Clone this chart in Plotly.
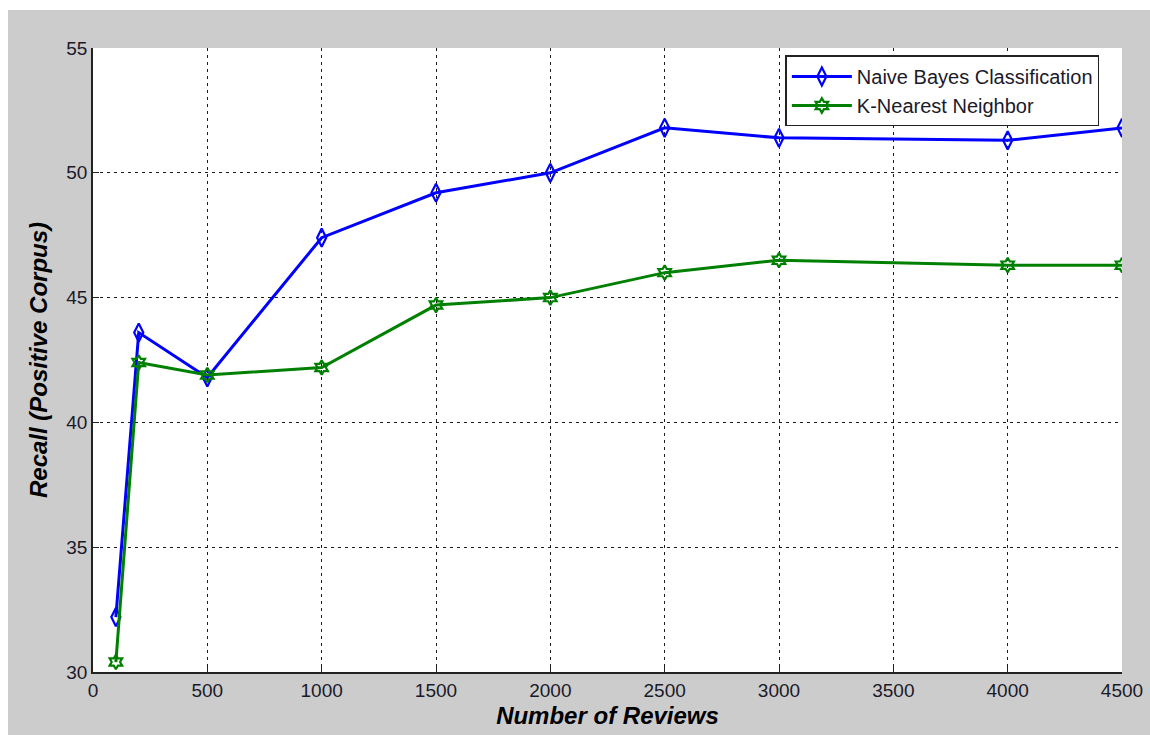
import plotly.graph_objects as go

# Number of reviews used for training
reviews = [100, 200, 500, 1000, 1500, 2000, 2500, 3000, 4000, 4500]

# Recall on the positive corpus (%)
naive_bayes = [32.2, 43.6, 41.8, 47.4, 49.2, 50.0, 51.8, 51.4, 51.3, 51.8]
knn = [30.4, 42.4, 41.9, 42.2, 44.7, 45.0, 46.0, 46.5, 46.3, 46.3]

x_ticks = [0, 500, 1000, 1500, 2000, 2500, 3000, 3500, 4000, 4500]
y_ticks = [30, 35, 40, 45, 50, 55]

FONT = "Liberation Sans, Arial, sans-serif"

fig = go.Figure()
fig.add_trace(go.Scatter(
    x=reviews, y=naive_bayes, name="Naive Bayes Classification",
    mode="lines+markers",
    line=dict(color="#0000ff", width=3),
    marker=dict(symbol="diamond-tall-open", size=13, color="#0000ff",
                line=dict(color="#0000ff", width=2.2)),
))
fig.add_trace(go.Scatter(
    x=reviews, y=knn, name="K-Nearest Neighbor",
    mode="lines+markers",
    line=dict(color="#008000", width=3),
    marker=dict(symbol="hexagram-open", size=11, color="#008000",
                line=dict(color="#008000", width=2.2)),
))

axis_common = dict(
    showline=True, linecolor="#222222", linewidth=1.5,
    ticks="inside", ticklen=6, tickcolor="#222222", tickwidth=1,
    showgrid=True, gridcolor="#1a1a1a", gridwidth=1, griddash="3px,4px",
    zeroline=False, automargin=False,
    tickfont=dict(family=FONT, size=19, color="#1a1a2a"),
)

fig.update_xaxes(
    range=[0, 4500], tickvals=x_ticks, ticktext=[str(v) for v in x_ticks],
    title=dict(text="<b><i>Number of Reviews</i></b>",
               font=dict(family=FONT, size=24, color="#000000"), standoff=8),
    **axis_common,
)
fig.update_yaxes(
    range=[30, 55], tickvals=y_ticks, ticktext=[str(v) for v in y_ticks],
    title=dict(text="<b><i>Recall (Positive Corpus)</i></b>",
               font=dict(family=FONT, size=24, color="#000000"), standoff=12),
    **axis_common,
)

fig.update_layout(
    width=1150, height=735,
    margin=dict(l=93, r=28, t=48, b=63, autoexpand=False),
    paper_bgcolor="#cccccc",
    plot_bgcolor="#ffffff",
    showlegend=True,
    legend=dict(
        x=0.978, y=0.988, xanchor="right", yanchor="top",
        bgcolor="#ffffff", bordercolor="#222222", borderwidth=1.5,
        font=dict(family=FONT, size=20, color="#1a1a2a"),
        itemwidth=60, tracegroupgap=2,
    ),
    shapes=[
        # thin white frame along the top and left edges of the figure
        dict(type="rect", xref="paper", yref="paper",
             x0=-93 / 1029, x1=-85 / 1029, y0=-63 / 624, y1=1 + 48 / 624,
             fillcolor="#ffffff", line=dict(width=0), layer="below"),
        dict(type="rect", xref="paper", yref="paper",
             x0=-93 / 1029, x1=1 + 28 / 1029, y0=1 + 38 / 624, y1=1 + 48 / 624,
             fillcolor="#ffffff", line=dict(width=0), layer="below"),
    ],
)

fig.write_html("out.html")
